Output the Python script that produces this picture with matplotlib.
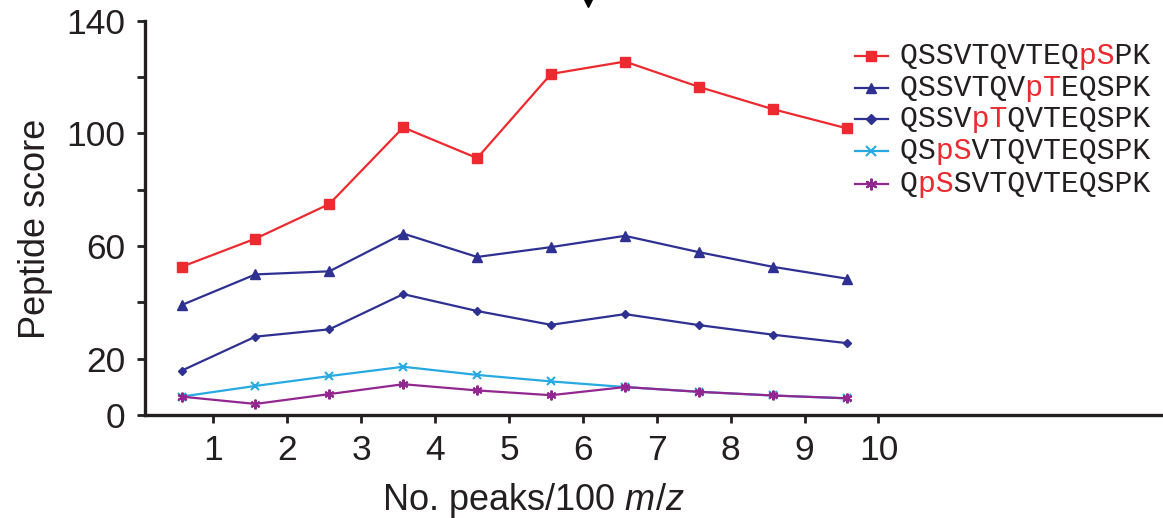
import matplotlib
matplotlib.use("Agg")
import matplotlib.pyplot as plt
from matplotlib.lines import Line2D

plt.rcParams["font.family"] = ["Liberation Sans", "DejaVu Sans"]
plt.rcParams["mathtext.fontset"] = "custom"
plt.rcParams["mathtext.rm"] = "Liberation Sans"
plt.rcParams["mathtext.it"] = "Liberation Sans:italic"

# data
x_pos = [0.57, 1.57, 2.57, 3.57, 4.57, 5.57, 6.57, 7.57, 8.57, 9.57]
qssvtqvteq_ps = [52.6, 62.6, 74.9, 102.1, 91.2, 121.1, 125.5, 116.5, 108.6, 101.8]
qssvtqv_pt = [39.0, 49.9, 51.0, 64.4, 56.1, 59.6, 63.6, 57.8, 52.6, 48.4]
qssv_pt = [15.7, 27.8, 30.4, 42.9, 36.9, 32.0, 35.8, 31.9, 28.5, 25.5]
qs_ps = [6.5, 10.3, 13.8, 17.1, 14.2, 11.9, 9.9, 8.2, 6.9, 5.9]
q_ps = [6.5, 3.9, 7.4, 10.9, 8.7, 7.0, 9.9, 8.2, 6.9, 5.9]

x_ticks = [1, 2, 3, 4, 5, 6, 7, 8, 9, 10]
y_ticks = [0, 20, 40, 60, 80, 100, 120, 140]
y_labels = ["0", "20", "", "60", "", "100", "", "140"]

peptides = ["QSSVTQVTEQpSPK", "QSSVTQVpTEQSPK", "QSSVpTQVTEQSPK",
            "QSpSVTQVTEQSPK", "QpSSVTQVTEQSPK"]
# character ranges of the phospho residue (drawn red)
red_spans = [(10, 12), (7, 9), (4, 6), (2, 4), (1, 3)]

RED = "#ec2a2f"
NAVY = "#2e3192"
CYAN = "#27aae1"
PURPLE = "#92278f"
TXT = "#231f20"

series = [
    (qssvtqvteq_ps, RED, "s", 6.5, 1.0),
    (qssvtqv_pt, NAVY, "^", 6.5, 1.0),
    (qssv_pt, NAVY, "D", 4.5, 1.0),
    (qs_ps, CYAN, "x", 6, 1.5),
    (q_ps, PURPLE, (6, 2, 0), 7, 1.5),
]

fig = plt.figure(figsize=(11.63, 5.18), dpi=100)
ax = fig.add_axes([0.1247, 0.199, 0.8753, 0.761])

for vals, col, mk, ms, mew in series:
    ax.plot(x_pos, vals, color=col, lw=1.6, marker=mk, ms=ms,
            mec=col, mfc=col, mew=mew)

ax.set_xlim(0.076, 13.85)
ax.set_ylim(0, 140)
ax.set_xticks(x_ticks)
ax.set_yticks(y_ticks)
ax.set_yticklabels(y_labels)
ax.tick_params(axis="both", labelsize=25.5, width=2, length=6, pad=8,
               color=TXT, labelcolor=TXT)
for side in ["top", "right"]:
    ax.spines[side].set_visible(False)
for side in ["left", "bottom"]:
    ax.spines[side].set_linewidth(2.4)
    ax.spines[side].set_color(TXT)

ax.set_xlabel("No. peaks/100 $m$/$z$", fontsize=26, color=TXT, x=0.381,
              labelpad=10)
ax.set_ylabel("Peptide score", fontsize=26, color=TXT, y=0.472, labelpad=10)

# legend drawn by hand so the phospho residues can be red
W, H = 1163, 518
row_y = [56, 88, 119, 151, 184]
for i, (vals, col, mk, ms, mew) in enumerate(series):
    fy = 1 - row_y[i] / H
    fig.add_artist(Line2D([855 / W, 871 / W, 888 / W], [fy, fy, fy],
                          transform=fig.transFigure, color=col, lw=1.6,
                          marker=mk, ms=ms * 1.2, mec=col, mfc=col, mew=mew,
                          markevery=[1]))
    pep = peptides[i]
    a, b = red_spans[i]
    black = pep[:a] + " " * (b - a) + pep[b:]
    red = " " * a + pep[a:b] + " " * (len(pep) - b)
    for s, c in [(black, TXT), (red, RED)]:
        fig.text(900 / W, fy, s, fontsize=21.5, family="Liberation Mono",
                 color=c, ha="left", va="center")

# small arrow tip at the top edge of the reference
fig.add_artist(Line2D([588 / W], [1 - 3 / H], transform=fig.transFigure,
                      marker="v", ms=6, color="black", lw=0))

fig.savefig("out.png", dpi=100)
